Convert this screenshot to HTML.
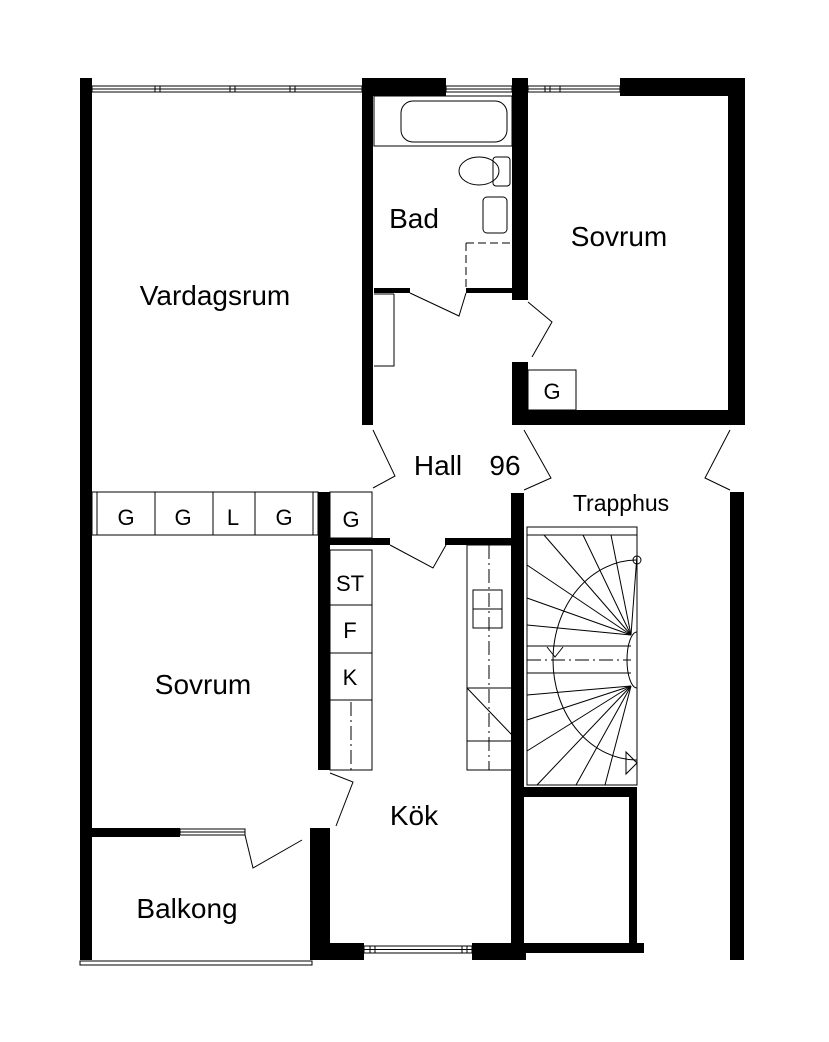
<!DOCTYPE html>
<html><head><meta charset="utf-8"><style>
html,body{margin:0;padding:0;background:#fff}
svg{display:block}
text{font-family:"Liberation Sans",Arial,sans-serif;fill:#000}
</style></head><body>
<svg width="829" height="1042" viewBox="0 0 829 1042" xmlns="http://www.w3.org/2000/svg">
<g fill="#000">
<rect x="80" y="78" width="12" height="882"/>
<rect x="362" y="78" width="84" height="18"/>
<rect x="362" y="78" width="11" height="347"/>
<rect x="512" y="78" width="16" height="222"/>
<rect x="620" y="78" width="125" height="18"/>
<rect x="728" y="78" width="17" height="347"/>
<rect x="512" y="410" width="233" height="15"/>
<rect x="512" y="362" width="16" height="63"/>
<rect x="374" y="288" width="36" height="5"/>
<rect x="466" y="288" width="46" height="5"/>
<rect x="318" y="492" width="12" height="278"/>
<rect x="330" y="538" width="60" height="7"/>
<rect x="445" y="538" width="67" height="7"/>
<rect x="511" y="493" width="13" height="467"/>
<rect x="730" y="492" width="14" height="468"/>
<rect x="92" y="828" width="88" height="9"/>
<rect x="310" y="828" width="20" height="132"/>
<rect x="310" y="943" width="54" height="17"/>
<rect x="472" y="943" width="54" height="17"/>
<rect x="524" y="787" width="113" height="10"/>
<rect x="629" y="787" width="8" height="166"/>
<rect x="524" y="943" width="120" height="10"/>
</g>
<g fill="none" stroke="#000" stroke-width="1">
<rect x="92" y="86" width="270" height="6"/>
<line x1="92" y1="89" x2="362" y2="89"/>
<path d="M155 86v6M160 86v6M230 86v6M235 86v6M290 86v6M295 86v6"/>
<rect x="446" y="86" width="66" height="6"/><line x1="446" y1="89" x2="512" y2="89"/>
<rect x="528" y="86" width="92" height="6"/><line x1="528" y1="89" x2="620" y2="89"/>
<path d="M545 86v6M550 86v6M560 86v6"/>
<rect x="180" y="829" width="65" height="6"/><line x1="180" y1="832" x2="245" y2="832"/>
<rect x="364" y="946" width="108" height="7"/><line x1="364" y1="949.5" x2="472" y2="949.5"/>
<path d="M370 946v7M375 946v7M462 946v7M467 946v7"/>
<rect x="80" y="961" width="232" height="4"/>
<rect x="374" y="96" width="138" height="50"/>
<rect x="401" y="101" width="106" height="41" rx="12"/>
<rect x="493" y="157" width="17" height="29" rx="3"/>
<ellipse cx="479" cy="171" rx="20" ry="14"/>
<rect x="483" y="197" width="24" height="36" rx="4"/>
<path d="M466 243h46M466 243v45" stroke-dasharray="8,4"/>
<path d="M374 294h20M394 294v72h-20"/>
<path d="M410 293L459 316L466 293"/>
<path d="M528 302L552 322L532 357"/>
<path d="M373 430L395 476L373 488"/>
<path d="M524 430L551 478L524 490"/>
<path d="M730 430L705 478L730 490"/>
<path d="M390 545L433 568L446 545"/>
<path d="M330 773L353 782L336 826"/>
<path d="M245 835L253 868L302 840"/>
<rect x="92" y="492" width="226" height="43"/>
<path d="M97 492v43M155 492v43M213 492v43M255 492v43M313 492v43"/>
<rect x="330" y="492" width="42" height="46"/>
<rect x="330" y="550" width="42" height="220"/>
<path d="M330 605h42M330 653h42M330 700h42"/>
<path d="M351 702v68" stroke-dasharray="14,4,2,4"/>
<rect x="467" y="545" width="45" height="225"/>
<line x1="489" y1="545" x2="489" y2="770" stroke-dasharray="14,4,2,4"/>
<rect x="473" y="590" width="29" height="38"/><line x1="473" y1="609" x2="502" y2="609"/>
<path d="M467 688h45M467 741h45M467 688L512 735"/>
<rect x="527" y="527" width="110" height="258"/>
<line x1="527" y1="535" x2="637" y2="535"/>
<path d="M637 560 A 84 100 0 0 0 553 660 A 84 100 0 0 0 637 760"/>
<path d="M637 632 A 10 28 0 0 0 637 688"/>
<circle cx="637" cy="560" r="4"/>
<path d="M527 646h104M527 673h104"/>
<path d="M527 660h104" stroke-dasharray="14,4,2,4"/>
<path d="M547 647l8 10 8-10"/>
<path d="M626 752v22l11-11z"/>
<g>
<line x1="631" y1="635" x2="544" y2="535"/>
<line x1="631" y1="635" x2="583" y2="535"/>
<line x1="631" y1="635" x2="611" y2="535"/>
<line x1="631" y1="635" x2="527" y2="565"/>
<line x1="631" y1="635" x2="527" y2="598"/>
<line x1="631" y1="635" x2="527" y2="625"/>
<line x1="631" y1="635" x2="637" y2="555"/>
<line x1="631" y1="686" x2="527" y2="695"/>
<line x1="631" y1="686" x2="527" y2="720"/>
<line x1="631" y1="686" x2="527" y2="751"/>
<line x1="631" y1="686" x2="537" y2="785"/>
<line x1="631" y1="686" x2="576" y2="785"/>
<line x1="631" y1="686" x2="605" y2="785"/>
</g>
<rect x="528" y="370" width="48" height="40"/>
</g>
<g font-size="28">
<text x="215" y="305" text-anchor="middle">Vardagsrum</text>
<text x="414" y="228" text-anchor="middle">Bad</text>
<text x="619" y="246" text-anchor="middle">Sovrum</text>
<text x="438" y="475" text-anchor="middle">Hall</text>
<text x="505" y="475" text-anchor="middle">96</text>
<text x="203" y="694" text-anchor="middle">Sovrum</text>
<text x="414" y="825" text-anchor="middle">Kök</text>
<text x="187" y="918" text-anchor="middle">Balkong</text>
</g>
<text x="621" y="511" text-anchor="middle" font-size="23">Trapphus</text>
<g font-size="22" text-anchor="middle">
<text x="126" y="525">G</text><text x="183" y="525">G</text><text x="233" y="525">L</text><text x="284" y="525">G</text>
<text x="351" y="527">G</text>
<text x="350" y="591">ST</text><text x="350" y="638">F</text><text x="350" y="685">K</text>
<text x="552" y="399">G</text>
</g>
</svg>
</body></html>
